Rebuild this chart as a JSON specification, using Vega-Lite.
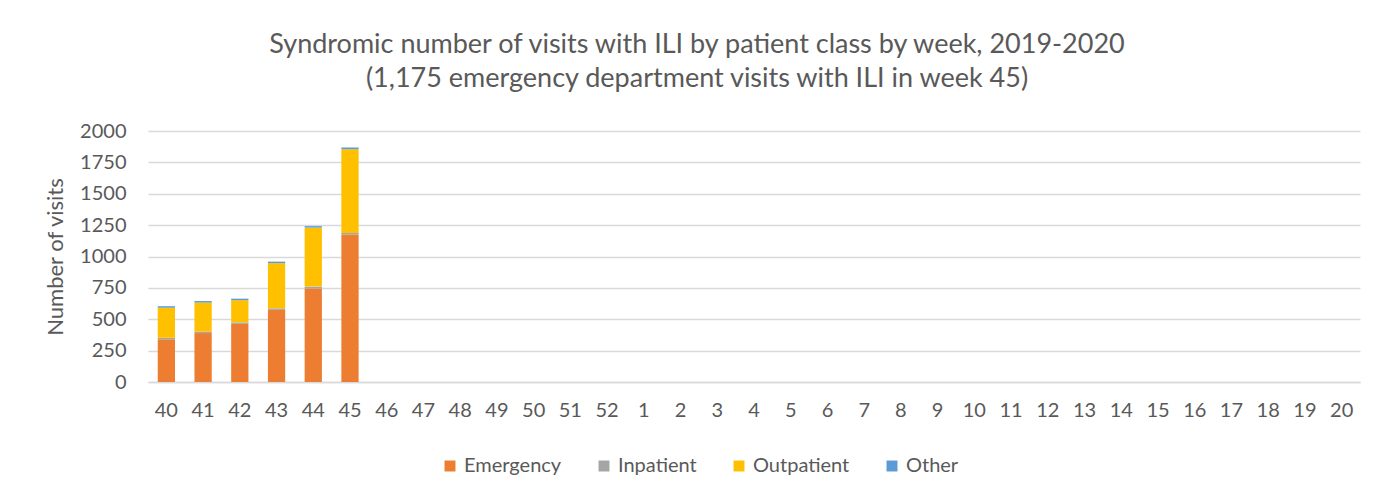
{
  "$schema": "https://vega.github.io/schema/vega-lite/v6.json",
  "width": 1212,
  "height": 251,
  "autosize": {"type": "none"},
  "padding": {"left": 148, "top": 131, "right": 35, "bottom": 120},
  "background": "white",
  "title": {
    "text": ["Syndromic number of visits with ILI by patient class by week, 2019-2020", "(1,175 emergency department visits with ILI in week 45)"],
    "font": "Lato",
    "fontSize": 27,
    "fontWeight": "normal",
    "color": "#595959",
    "lineHeight": 34,
    "anchor": "middle",
    "dx": -57,
    "offset": 28
  },
  "data": {
    "values": [
      {"week": "40", "class": "Emergency", "visits": 340},
      {"week": "40", "class": "Inpatient", "visits": 12},
      {"week": "40", "class": "Outpatient", "visits": 240},
      {"week": "40", "class": "Other", "visits": 12},
      {"week": "41", "class": "Emergency", "visits": 390},
      {"week": "41", "class": "Inpatient", "visits": 12},
      {"week": "41", "class": "Outpatient", "visits": 231},
      {"week": "41", "class": "Other", "visits": 12},
      {"week": "42", "class": "Emergency", "visits": 463},
      {"week": "42", "class": "Inpatient", "visits": 12},
      {"week": "42", "class": "Outpatient", "visits": 177},
      {"week": "42", "class": "Other", "visits": 12},
      {"week": "43", "class": "Emergency", "visits": 575},
      {"week": "43", "class": "Inpatient", "visits": 12},
      {"week": "43", "class": "Outpatient", "visits": 360},
      {"week": "43", "class": "Other", "visits": 12},
      {"week": "44", "class": "Emergency", "visits": 745},
      {"week": "44", "class": "Inpatient", "visits": 15},
      {"week": "44", "class": "Outpatient", "visits": 470},
      {"week": "44", "class": "Other", "visits": 12},
      {"week": "45", "class": "Emergency", "visits": 1175},
      {"week": "45", "class": "Inpatient", "visits": 12},
      {"week": "45", "class": "Outpatient", "visits": 667},
      {"week": "45", "class": "Other", "visits": 14},
      {"week": "46", "class": "Emergency", "visits": 0},
      {"week": "47", "class": "Emergency", "visits": 0},
      {"week": "48", "class": "Emergency", "visits": 0},
      {"week": "49", "class": "Emergency", "visits": 0},
      {"week": "50", "class": "Emergency", "visits": 0},
      {"week": "51", "class": "Emergency", "visits": 0},
      {"week": "52", "class": "Emergency", "visits": 0},
      {"week": "1", "class": "Emergency", "visits": 0},
      {"week": "2", "class": "Emergency", "visits": 0},
      {"week": "3", "class": "Emergency", "visits": 0},
      {"week": "4", "class": "Emergency", "visits": 0},
      {"week": "5", "class": "Emergency", "visits": 0},
      {"week": "6", "class": "Emergency", "visits": 0},
      {"week": "7", "class": "Emergency", "visits": 0},
      {"week": "8", "class": "Emergency", "visits": 0},
      {"week": "9", "class": "Emergency", "visits": 0},
      {"week": "10", "class": "Emergency", "visits": 0},
      {"week": "11", "class": "Emergency", "visits": 0},
      {"week": "12", "class": "Emergency", "visits": 0},
      {"week": "13", "class": "Emergency", "visits": 0},
      {"week": "14", "class": "Emergency", "visits": 0}
    ]
  },
  "transform": [
    {"calculate": "indexof(['Emergency','Inpatient','Outpatient','Other'], datum['class'])", "as": "stackOrder"}
  ],
  "mark": {"type": "bar"},
  "encoding": {
    "x": {
      "field": "week",
      "type": "nominal",
      "sort": null,
      "scale": {
        "domain": ["40","41","42","43","44","45","46","47","48","49","50","51","52","1","2","3","4","5","6","7","8","9","10","11","12","13","14","15","16","17","18","19","20"],
        "paddingInner": 0.53,
        "paddingOuter": 0.265
      },
      "axis": {
        "title": null,
        "labelAngle": 0,
        "labelFont": "Lato",
        "labelFontSize": 20,
        "labelColor": "#595959",
        "labelPadding": 18,
        "ticks": false,
        "domainColor": "#D9D9D9",
        "domainWidth": 1.5,
        "grid": false
      }
    },
    "y": {
      "field": "visits",
      "type": "quantitative",
      "stack": "zero",
      "scale": {"domain": [0, 2000]},
      "axis": {
        "values": [0, 250, 500, 750, 1000, 1250, 1500, 1750, 2000],
        "format": "d",
        "title": "Number of visits",
        "titleFont": "Lato",
        "titleFontSize": 22,
        "titleFontWeight": "normal",
        "titleColor": "#595959",
        "titlePadding": 12,
        "labelFont": "Lato",
        "labelFontSize": 20,
        "labelColor": "#595959",
        "labelPadding": 22,
        "ticks": false,
        "domain": false,
        "gridColor": "#D9D9D9",
        "gridWidth": 1.5
      }
    },
    "color": {
      "field": "class",
      "type": "nominal",
      "scale": {
        "domain": ["Emergency", "Inpatient", "Outpatient", "Other"],
        "range": ["#ED7D31", "#A5A5A5", "#FFC000", "#5B9BD5"]
      },
      "legend": {
        "title": null,
        "orient": "none",
        "direction": "horizontal",
        "legendX": 292,
        "legendY": 325,
        "symbolType": "square",
        "symbolSize": 120,
        "symbolStrokeWidth": 0,
        "labelFont": "Lato",
        "labelFontSize": 20,
        "labelColor": "#595959",
        "columnPadding": 32,
        "labelOffset": 4
      }
    },
    "order": {"field": "stackOrder", "type": "quantitative"}
  },
  "config": {"view": {"stroke": null}}
}
